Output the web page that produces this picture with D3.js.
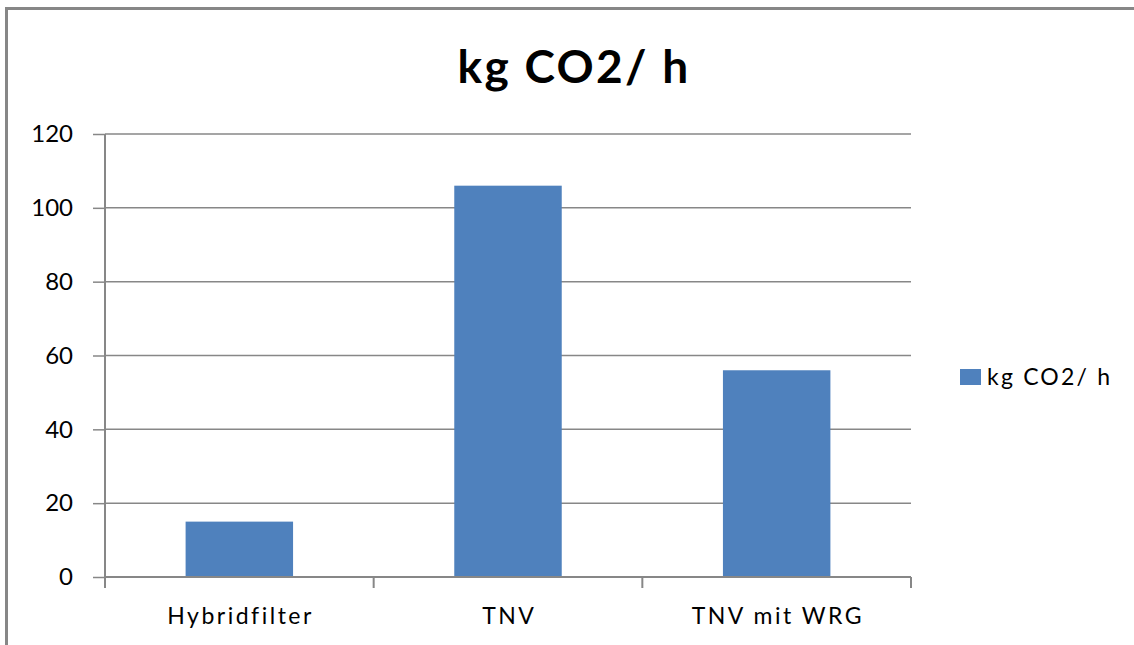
<!DOCTYPE html>
<html>
<head>
<meta charset="utf-8">
<script src="https://cdn.jsdelivr.net/npm/d3@7"></script>
<style>
  html, body { margin: 0; padding: 0; background: #fff; }
  svg { display: block; }
  text { font-family: Lato, "Open Sans", sans-serif; fill: #000; }
</style>
</head>
<body>
<svg id="chart" width="1134" height="645"></svg>
<script>
// Emissions per process (kg CO2 per hour)
const categories = ["Hybridfilter", "TNV", "TNV mit WRG"];
const seriesName = "kg CO2/ h";
const values = [15, 106, 56];
const yTicks = [0, 20, 40, 60, 80, 100, 120];
const chartTitle = "kg CO2/ h";

const svg = d3.select("#chart");
const W = 1134, H = 645;
const plot = { left: 105, right: 911, top: 134, bottom: 577 };
const gray = "#878787";
const barColor = "#4F81BD";

// outer frame
svg.append("rect")
  .attr("x", 6.5).attr("y", 8.5)
  .attr("width", W + 10).attr("height", H + 10)
  .attr("fill", "none").attr("stroke", gray).attr("stroke-width", 3);

const x = d3.scaleBand()
  .domain(categories)
  .range([plot.left, plot.right])
  .paddingInner(0.6)
  .paddingOuter(0.3);

const y = d3.scaleLinear()
  .domain([0, 120])
  .range([plot.bottom, plot.top]);

// value axis: tick marks and labels
const yAxis = d3.axisLeft(y)
  .tickValues(yTicks)
  .tickSize(12)
  .tickPadding(20)
  .tickFormat(d3.format("d"));

const gy = svg.append("g")
  .attr("transform", `translate(${plot.left},0)`)
  .call(yAxis);
gy.select(".domain").remove();
gy.selectAll(".tick line").attr("stroke", gray).attr("stroke-width", 1.5);
gy.selectAll(".tick text")
  .attr("font-size", 24)
  .attr("font-family", "Lato, sans-serif")
  .attr("fill", "#000");

// horizontal gridlines
svg.append("g")
  .selectAll("line")
  .data(yTicks.filter(d => d > 0))
  .join("line")
  .attr("x1", plot.left).attr("x2", plot.right)
  .attr("y1", d => y(d)).attr("y2", d => y(d))
  .attr("stroke", gray).attr("stroke-width", 1.5);

// bars
svg.append("g")
  .selectAll("rect")
  .data(values)
  .join("rect")
  .attr("x", (d, i) => x(categories[i]))
  .attr("y", d => y(d))
  .attr("width", x.bandwidth())
  .attr("height", d => y(0) - y(d))
  .attr("fill", barColor);

// value axis line
svg.append("line")
  .attr("x1", plot.left).attr("x2", plot.left)
  .attr("y1", y(120)).attr("y2", y(0) + 11)
  .attr("stroke", gray).attr("stroke-width", 2);

// category axis with ticks at band boundaries
svg.append("line")
  .attr("x1", plot.left).attr("x2", plot.right)
  .attr("y1", y(0)).attr("y2", y(0))
  .attr("stroke", gray).attr("stroke-width", 2);

const step = x.step();
const bounds = d3.range(categories.length + 1).map(i => plot.left + i * step);
svg.append("g")
  .selectAll("line")
  .data(bounds)
  .join("line")
  .attr("x1", d => d).attr("x2", d => d)
  .attr("y1", y(0)).attr("y2", y(0) + 11)
  .attr("stroke", gray).attr("stroke-width", 2);

svg.append("g")
  .selectAll("text")
  .data(categories)
  .join("text")
  .attr("x", d => x(d) + x.bandwidth() / 2 + 1.25)
  .attr("y", 624)
  .attr("text-anchor", "middle")
  .attr("font-size", 23)
  .attr("letter-spacing", 2.5)
  .text(d => d);

// title
svg.append("text")
  .attr("x", 574).attr("y", 83)
  .attr("text-anchor", "middle")
  .attr("font-size", 46)
  .attr("font-weight", "bold")
  .attr("letter-spacing", 2.3)
  .text(chartTitle);

// legend
const lg = svg.append("g").attr("transform", "translate(960,369)");
lg.append("rect")
  .attr("width", 21).attr("height", 16)
  .attr("fill", barColor);
lg.append("text")
  .attr("x", 27).attr("y", 16)
  .attr("font-size", 23)
  .attr("letter-spacing", 2.2)
  .text(seriesName);
</script>
</body>
</html>
